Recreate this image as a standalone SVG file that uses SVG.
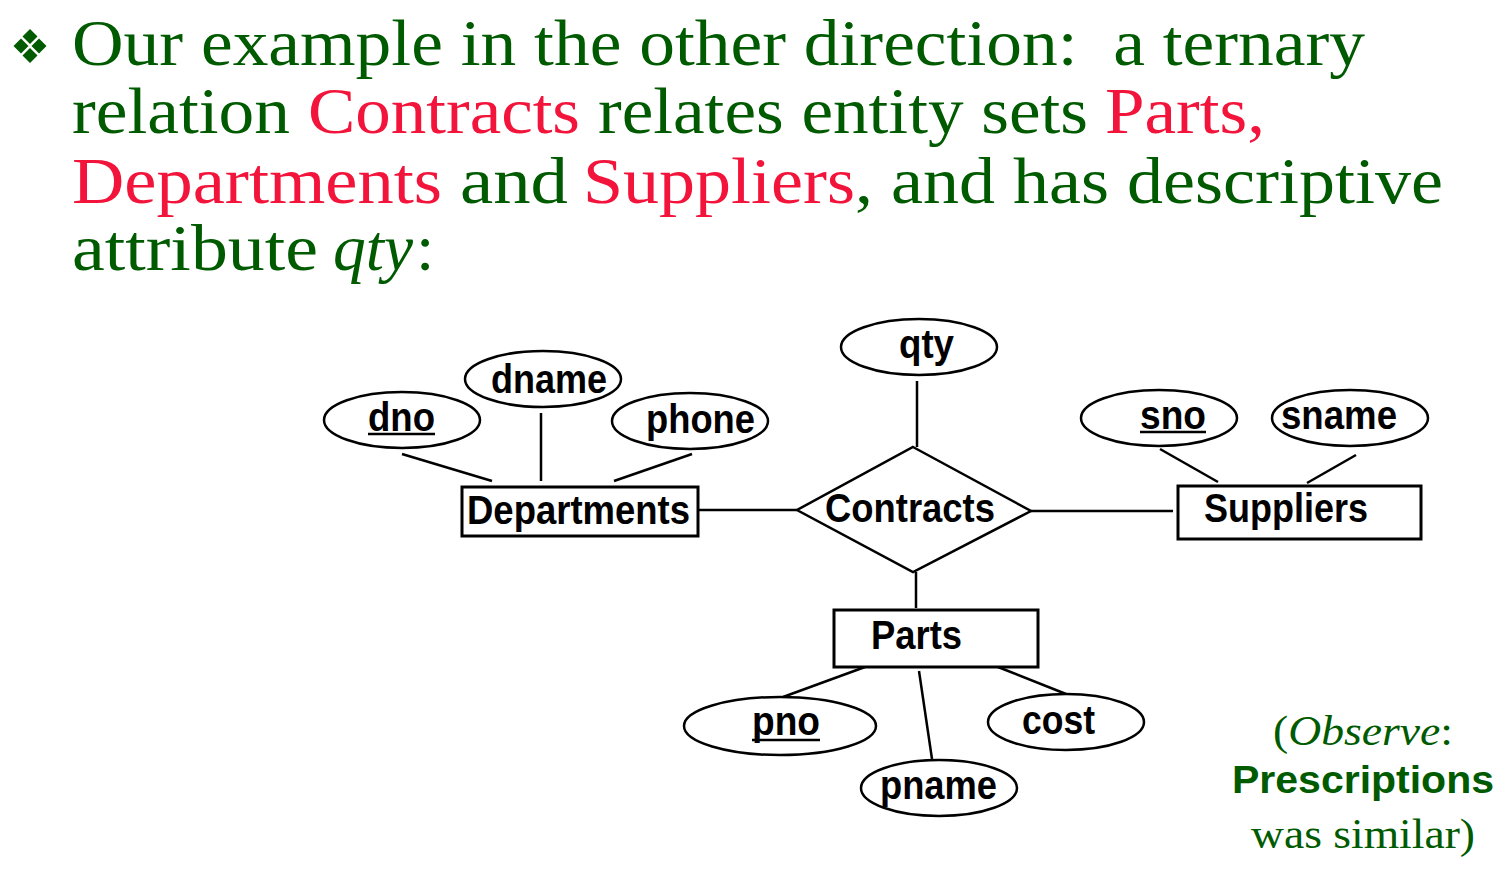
<svg xmlns="http://www.w3.org/2000/svg" width="1506" height="872" viewBox="0 0 1506 872">
  <style>
    .hd { font-family: "Liberation Serif", "Times New Roman", serif; font-size: 66px; }
    .g { fill: #005a00; }
    .r { fill: #f2143a; }
    .it { font-style: italic; }
    .pre { white-space: pre; }
    .lbl { font-family: "Liberation Sans", Arial, sans-serif; font-weight: bold; font-size: 40px; fill: #000; }
    .attr { fill: #fff; stroke: #000; stroke-width: 2.5; }
    .ent { fill: #fff; stroke: #000; stroke-width: 3; }
    .rel { fill: #fff; stroke: #000; stroke-width: 2.5; }
    .edge { stroke: #000; stroke-width: 2.5; fill: none; }
    .ul { stroke: #000; stroke-width: 2.5; }
    .note { font-family: "Liberation Serif", "Times New Roman", serif; font-size: 42px; fill: #005a00; }
    .noteb { font-family: "Liberation Sans", Arial, sans-serif; font-weight: bold; font-size: 38px; fill: #005a00; }
  </style>

  <rect width="1506" height="872" fill="#fff"/>

  <!-- bullet mark -->
  <g id="bullet" fill="#005a00">
    <polygon points="30,29 37.5,36.5 30,44 22.5,36.5"/>
    <polygon points="30,48 37.5,55.5 30,63 22.5,55.5"/>
    <polygon points="21,38.5 28.5,46 21,53.5 13.5,46"/>
    <polygon points="39,38.5 46.5,46 39,53.5 31.5,46"/>
  </g>

  <!-- heading -->
  <g id="heading" class="hd">
    <text class="g pre" x="72" y="65" textLength="1293" lengthAdjust="spacingAndGlyphs">Our example in the other direction:  a ternary</text>

    <text class="g" x="72" y="133" textLength="218" lengthAdjust="spacingAndGlyphs">relation</text>
    <text class="r" x="308" y="133" textLength="272" lengthAdjust="spacingAndGlyphs">Contracts</text>
    <text class="g" x="598" y="133" textLength="490" lengthAdjust="spacingAndGlyphs">relates entity sets</text>
    <text class="r" x="1105" y="133" textLength="160" lengthAdjust="spacingAndGlyphs">Parts,</text>

    <text class="r" x="72" y="203" textLength="370" lengthAdjust="spacingAndGlyphs">Departments</text>
    <text class="g" x="460" y="203" textLength="108" lengthAdjust="spacingAndGlyphs">and</text>
    <text class="r" x="583" y="203" textLength="272" lengthAdjust="spacingAndGlyphs">Suppliers</text>
    <text class="g" x="855" y="203" textLength="588" lengthAdjust="spacingAndGlyphs">, and has descriptive</text>

    <text class="g" x="72" y="270" textLength="246" lengthAdjust="spacingAndGlyphs">attribute</text>
    <text class="g it" x="333" y="270" textLength="80" lengthAdjust="spacingAndGlyphs">qty</text>
    <text class="g" x="416" y="270">:</text>
  </g>

  <!-- connectors -->
  <g id="connectors">
    <line class="edge" x1="402" y1="454" x2="492" y2="481"/>
    <line class="edge" x1="541" y1="413" x2="541" y2="481"/>
    <line class="edge" x1="692" y1="454" x2="614" y2="481"/>
    <line class="edge" x1="698" y1="510" x2="797" y2="510"/>
    <line class="edge" x1="917" y1="381" x2="917" y2="447"/>
    <line class="edge" x1="1031" y1="511" x2="1173" y2="511"/>
    <line class="edge" x1="1160" y1="449" x2="1218" y2="482"/>
    <line class="edge" x1="1356" y1="455" x2="1307" y2="483"/>
    <line class="edge" x1="916" y1="572" x2="916" y2="608"/>
    <line class="edge" x1="865" y1="667" x2="783" y2="697"/>
    <line class="edge" x1="919" y1="671" x2="932" y2="759"/>
    <line class="edge" x1="998" y1="667" x2="1066" y2="694"/>
  </g>

  <!-- Departments and its attributes -->
  <g id="dno">
    <ellipse class="attr" cx="402" cy="420" rx="78" ry="28"/>
    <text class="lbl" x="368" y="431" textLength="67" lengthAdjust="spacingAndGlyphs">dno</text>
    <line class="ul" x1="368" y1="434" x2="435" y2="434"/>
  </g>
  <g id="dname">
    <ellipse class="attr" cx="543" cy="379" rx="78" ry="28"/>
    <text class="lbl" x="491" y="393" textLength="116" lengthAdjust="spacingAndGlyphs">dname</text>
  </g>
  <g id="phone">
    <ellipse class="attr" cx="690" cy="421" rx="78" ry="28"/>
    <text class="lbl" x="646" y="433" textLength="109" lengthAdjust="spacingAndGlyphs">phone</text>
  </g>
  <g id="Departments">
    <rect class="ent" x="462" y="487" width="236" height="49"/>
    <text class="lbl" x="467" y="524" textLength="223" lengthAdjust="spacingAndGlyphs">Departments</text>
  </g>

  <!-- relationship -->
  <g id="qty">
    <ellipse class="attr" cx="919" cy="347" rx="78" ry="28"/>
    <text class="lbl" x="899" y="358" textLength="55" lengthAdjust="spacingAndGlyphs">qty</text>
  </g>
  <g id="Contracts">
    <polygon class="rel" points="913,447 1031,511 913,572 797,510"/>
    <text class="lbl" x="825" y="522" textLength="170" lengthAdjust="spacingAndGlyphs">Contracts</text>
  </g>

  <!-- Suppliers and its attributes -->
  <g id="sno">
    <ellipse class="attr" cx="1159" cy="418" rx="78" ry="28"/>
    <text class="lbl" x="1140" y="429" textLength="66" lengthAdjust="spacingAndGlyphs">sno</text>
    <line class="ul" x1="1140" y1="432" x2="1206" y2="432"/>
  </g>
  <g id="sname">
    <ellipse class="attr" cx="1350" cy="418" rx="78" ry="28"/>
    <text class="lbl" x="1281" y="429" textLength="116" lengthAdjust="spacingAndGlyphs">sname</text>
  </g>
  <g id="Suppliers">
    <rect class="ent" x="1178" y="486" width="243" height="53"/>
    <text class="lbl" x="1204" y="522" textLength="164" lengthAdjust="spacingAndGlyphs">Suppliers</text>
  </g>

  <!-- Parts and its attributes -->
  <g id="Parts">
    <rect class="ent" x="834" y="610" width="204" height="57"/>
    <text class="lbl" x="871" y="649" textLength="91" lengthAdjust="spacingAndGlyphs">Parts</text>
  </g>
  <g id="pno">
    <ellipse class="attr" cx="780" cy="726" rx="96" ry="29"/>
    <text class="lbl" x="752" y="735" textLength="68" lengthAdjust="spacingAndGlyphs">pno</text>
    <line class="ul" x1="752" y1="740" x2="820" y2="740"/>
  </g>
  <g id="pname">
    <ellipse class="attr" cx="939" cy="788" rx="78" ry="28"/>
    <text class="lbl" x="880" y="799" textLength="117" lengthAdjust="spacingAndGlyphs">pname</text>
  </g>
  <g id="cost">
    <ellipse class="attr" cx="1066" cy="722" rx="78" ry="28"/>
    <text class="lbl" x="1022" y="734" textLength="73" lengthAdjust="spacingAndGlyphs">cost</text>
  </g>

  <!-- side note -->
  <g id="note">
    <text class="note" x="1273" y="745" textLength="180" lengthAdjust="spacingAndGlyphs">(<tspan font-style="italic">Observe</tspan>:</text>
    <text class="noteb" x="1232" y="793" textLength="262" lengthAdjust="spacingAndGlyphs">Prescriptions</text>
    <text class="note" x="1251" y="848" textLength="224" lengthAdjust="spacingAndGlyphs">was similar)</text>
  </g>
</svg>
